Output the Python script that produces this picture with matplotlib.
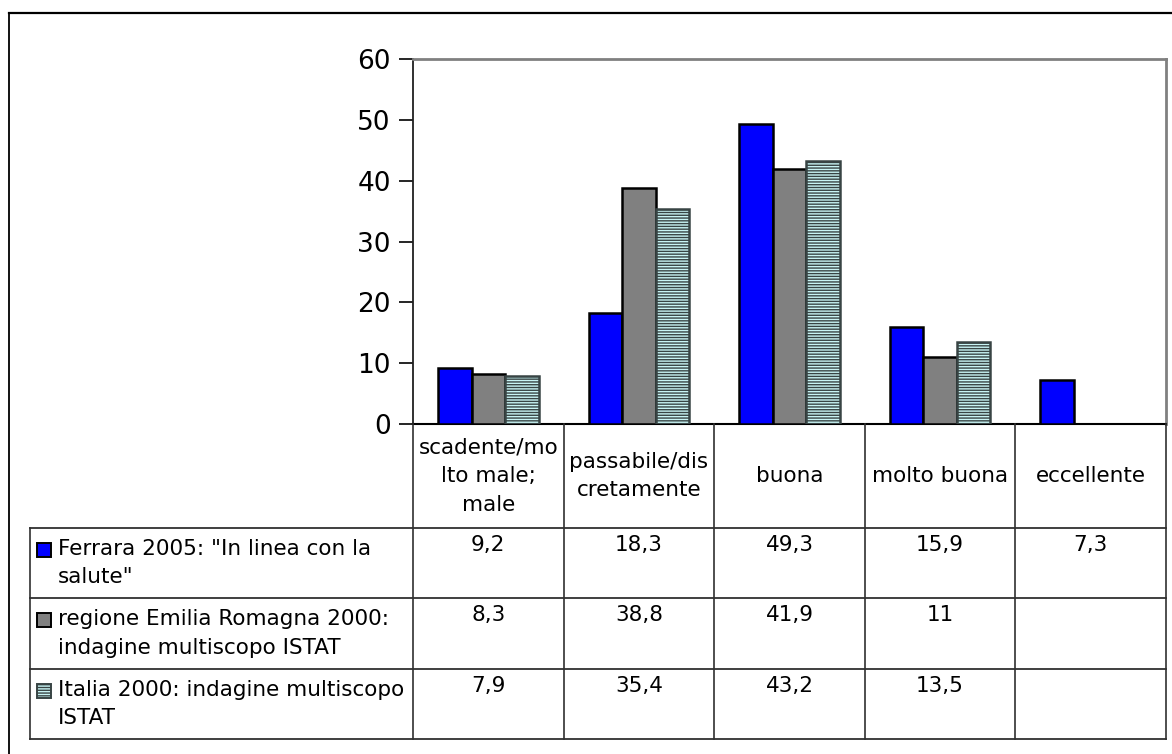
import matplotlib
matplotlib.use("Agg")
import matplotlib.pyplot as plt
from matplotlib.lines import Line2D
from matplotlib.patches import Rectangle
import numpy as np

plt.rcParams['font.family'] = ['DejaVu Sans']
plt.rcParams['hatch.linewidth'] = 1.0

categories = ["scadente/mo\nlto male;\nmale", "passabile/dis\ncretamente", "buona",
              "molto buona", "eccellente"]
series_names = ["Ferrara 2005: \"In linea con la\nsalute\"",
                "regione Emilia Romagna 2000:\nindagine multiscopo ISTAT",
                "Italia 2000: indagine multiscopo\nISTAT"]
ferrara = [9.2, 18.3, 49.3, 15.9, 7.3]
emilia = [8.3, 38.8, 41.9, 11, None]
italia = [7.9, 35.4, 43.2, 13.5, None]
yticks = [0, 10, 20, 30, 40, 50, 60]

series = [ferrara, emilia, italia]
face = ['#0000ff', '#808080', '#c8f4f4']
edge = ['#000000', '#000000', '#384444']
hatch = [None, None, '------']

W, H = 1172, 754
fig = plt.figure(figsize=(W / 100, H / 100), dpi=100)

def fx(x):
    return x / W

def fy(y):
    return 1 - y / H

# plot area in pixels
L, R, T, B = 413, 1166, 59, 424
ax = fig.add_axes([fx(L), fy(B), fx(R) - fx(L), fy(T) - fy(B)])
n = len(categories)
x = np.arange(n)
bw = 0.223
for k, vals in enumerate(series):
    for i, v in enumerate(vals):
        if v is None:
            continue
        ax.bar(x[i] + (k - 1) * bw, v, width=bw, color=face[k], edgecolor=edge[k],
               linewidth=1.8, hatch=hatch[k], zorder=3)
ax.set_xlim(-0.5, n - 0.5)
ax.set_ylim(0, 60)
ax.set_yticks(yticks)
ax.set_yticklabels([str(t) for t in yticks], fontsize=19)
ax.set_xticks([])
ax.tick_params(axis='y', direction='out', length=10, width=1.2, color='#000000', pad=6)
for s in ['top', 'right']:
    ax.spines[s].set_color('#808080')
    ax.spines[s].set_linewidth(2)
ax.spines['left'].set_color('#202020')
ax.spines['left'].set_linewidth(1.3)
ax.spines['bottom'].set_color('#000000')
ax.spines['bottom'].set_linewidth(1.5)

# outer frame (top and left)
fig.add_artist(Line2D([fx(9), fx(W)], [fy(12.5), fy(12.5)], color='black', lw=1.6))
fig.add_artist(Line2D([fx(9), fx(9)], [fy(12.5), fy(H)], color='black', lw=1.3))

# table
colw = (R - L) / n
xs = [L + colw * i for i in range(n + 1)]
rows_y = [528, 598, 669, 739]
lc = '#303030'
for xv in xs:
    fig.add_artist(Line2D([fx(xv), fx(xv)], [fy(B), fy(739)], color=lc, lw=1.2))
fig.add_artist(Line2D([fx(30), fx(30)], [fy(528), fy(739)], color=lc, lw=1.2))
for yv in rows_y:
    fig.add_artist(Line2D([fx(30), fx(R)], [fy(yv), fy(yv)], color=lc, lw=1.3))

for i, c in enumerate(categories):
    fig.text(fx(L + colw * (i + 0.5)), fy(476), c, ha='center', va='center',
             fontsize=15.5, linespacing=1.55)

def fmt(v):
    if v is None:
        return ""
    if float(v).is_integer():
        return str(int(v))
    return ("%.1f" % v).replace('.', ',')

for k, vals in enumerate(series):
    ytop = rows_y[k]
    for i, v in enumerate(vals):
        fig.text(fx(L + colw * (i + 0.5)), fy(ytop + 17), fmt(v), ha='center',
                 va='center', fontsize=15.5)
    ycen = (rows_y[k] + rows_y[k + 1]) / 2
    fig.text(fx(58), fy(ycen), series_names[k], ha='left', va='center', fontsize=15.5,
             linespacing=1.55)
    ms = 14
    fig.add_artist(Rectangle((fx(37), fy(ytop + 15 + ms)), ms / W, ms / H,
                             transform=fig.transFigure, facecolor=face[k],
                             edgecolor='#000000' if k < 2 else '#384444', lw=1.4,
                             hatch='------' if k == 2 else None))

fig.savefig("out.png", dpi=100)
